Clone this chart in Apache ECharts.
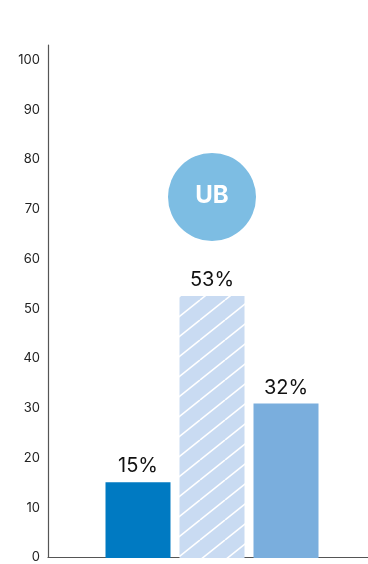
<!DOCTYPE html>
<html>
<head>
<meta charset="utf-8">
<script src="https://cdn.jsdelivr.net/npm/echarts@6/dist/echarts.min.js"></script>
<style>html,body{margin:0;padding:0;background:#fff}#c{width:368px;height:564px}</style>
</head>
<body>
<div id="c"></div>
<script>
var categories = ['A', 'B', 'C'];
var seriesValues = [15.2, 52.6, 31];
var seriesLabels = ['15%', '53%', '32%'];
var yTicks = [0, 10, 20, 30, 40, 50, 60, 70, 80, 90, 100];
var badgeText = 'UB';

function hatch() {
  var W = 25, H = 20;
  var cv = document.createElement('canvas');
  cv.width = W; cv.height = H;
  var ctx = cv.getContext('2d');
  ctx.fillStyle = '#C9DBF2';
  ctx.fillRect(0, 0, W, H);
  ctx.strokeStyle = '#ffffff';
  ctx.lineWidth = 1.6;
  [-W, 0, W].forEach(function (o) {
    ctx.beginPath();
    ctx.moveTo(o, H);
    ctx.lineTo(o + W, 0);
    ctx.stroke();
  });
  return cv;
}

var colors = ['#007AC2', {image: hatch(), repeat: 'repeat'}, '#7AAEDD'];
var font = 'Inter, "Noto Sans", sans-serif';
var axisColor = '#555';

var chart = echarts.init(document.getElementById('c'));
chart.setOption({
  animation: false,
  grid: [
    {left: 48, right: 0, top: 45, bottom: 6},
    {left: 101, width: 222, top: 45, bottom: 6}
  ],
  xAxis: [{
    type: 'value', gridIndex: 0, min: 0, max: 1,
    axisLine: {show: true, lineStyle: {color: axisColor, width: 1.2}},
    axisTick: {show: false}, axisLabel: {show: false}, splitLine: {show: false}
  }, {
    type: 'category', gridIndex: 1, data: categories, show: false
  }],
  yAxis: [{
    type: 'value', gridIndex: 0, min: 0, max: 103, interval: 10,
    splitLine: {show: false},
    axisTick: {show: false},
    axisLine: {show: true, lineStyle: {color: axisColor, width: 1.2}},
    axisLabel: {
      margin: 8, color: '#222', fontSize: 13, fontFamily: font,
      formatter: function (v) { return yTicks.indexOf(v) >= 0 ? String(v) : ''; }
    }
  }, {
    type: 'value', gridIndex: 1, min: 0, max: 103, show: false, splitLine: {show: false}
  }],
  series: [{
    type: 'bar', xAxisIndex: 1, yAxisIndex: 1,
    barWidth: 65,
    data: seriesValues.map(function (v, i) {
      return {value: v, itemStyle: {color: colors[i]}};
    }),
    label: {
      show: true, position: 'top', distance: 6,
      color: '#111', fontSize: 20, fontFamily: font,
      formatter: function (p) { return seriesLabels[p.dataIndex]; }
    }
  }],
  graphic: [{
    type: 'circle', shape: {cx: 212, cy: 197, r: 44},
    style: {fill: '#7DBDE3'}
  }, {
    type: 'text', x: 212, y: 196,
    style: {text: badgeText, fill: '#fff', font: 'bold 24px ' + font, align: 'center', verticalAlign: 'middle'}
  }]
});
</script>
</body>
</html>
